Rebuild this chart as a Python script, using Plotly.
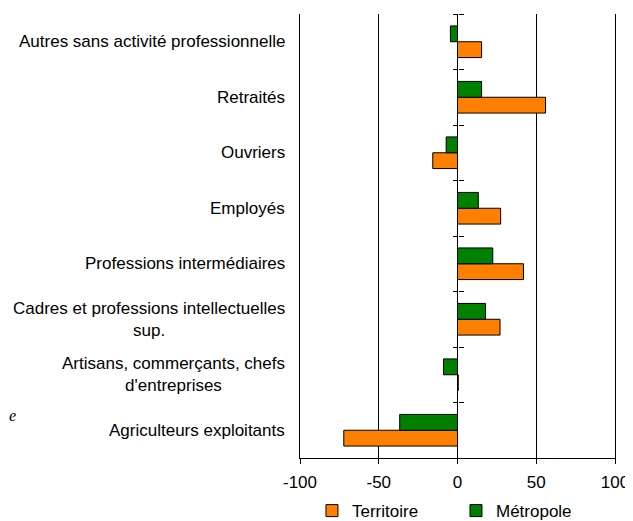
import plotly.graph_objects as go

# categories listed bottom to top
categories = [
    "Agriculteurs exploitants",
    "Artisans, commerçants, chefs<br>d'entreprises",
    "Cadres et professions intellectuelles<br>sup.",
    "Professions intermédiaires",
    "Employés",
    "Ouvriers",
    "Retraités",
    "Autres sans activité professionnelle",
]
territoire = [-72.2, 0.5, 27.0, 41.9, 27.4, -15.7, 55.9, 15.3]
metropole = [-36.7, -8.9, 17.8, 22.4, 13.2, -7.2, 15.3, -4.5]
x_ticks = [-100, -50, 0, 50, 100]

ypos = list(range(len(categories)))
bounds = [i - 0.5 for i in range(len(categories) + 1)]
yrange = [-0.5, len(categories) - 0.5]

FONT = "Liberation Sans, Arial, sans-serif"

fig = go.Figure()
fig.add_trace(go.Bar(
    y=ypos, x=territoire, orientation="h", name="Territoire",
    marker=dict(color="#FF8000", line=dict(color="black", width=1)),
))
fig.add_trace(go.Bar(
    y=ypos, x=metropole, orientation="h", name="Métropole",
    marker=dict(color="#008000", line=dict(color="black", width=1)),
))
# invisible helpers so the boundary-tick axes get drawn
for ax in ["y2", "y3"]:
    fig.add_trace(go.Scatter(
        x=[None], y=[None], yaxis=ax, mode="markers", showlegend=False,
        hoverinfo="skip",
    ))

for i, c in enumerate(categories):
    fig.add_annotation(
        x=0, xref="paper", y=ypos[i], yref="y", text=c, showarrow=False,
        xanchor="right", yanchor="middle", align="center", xshift=-13,
        font=dict(family=FONT, size=17, color="black"),
    )

fig.add_annotation(
    x=0, xref="paper", y=0.095, yref="paper", text="<i>e</i>", showarrow=False,
    xanchor="left", yanchor="middle", xshift=-293,
    font=dict(family="Liberation Serif, serif", size=16, color="black"),
)

fig.update_layout(
    width=625, height=513,
    margin=dict(l=292, r=18, t=6, b=63, autoexpand=False),
    paper_bgcolor="white", plot_bgcolor="white",
    barmode="group", bargap=0.43, bargroupgap=0,
    showlegend=True,
    legend=dict(orientation="h", x=0.038, xanchor="left", y=-0.1195, yanchor="middle",
                font=dict(family=FONT, size=17, color="black"),
                bgcolor="rgba(0,0,0,0)",
                entrywidth=99, entrywidthmode="pixels", itemwidth=30,
                traceorder="normal"),
    xaxis=dict(
        range=[-100, 100], tickvals=x_ticks, ticktext=[str(v) for v in x_ticks],
        showgrid=True, gridcolor="black", gridwidth=1,
        zeroline=True, zerolinecolor="black", zerolinewidth=1,
        showline=True, linecolor="black", linewidth=1,
        ticks="outside", ticklen=5, tickcolor="black",
        ticklabelstandoff=4,
        tickfont=dict(family=FONT, size=17, color="black"),
        mirror=False,
    ),
    yaxis=dict(
        range=yrange, showticklabels=False,
        showgrid=False, zeroline=False, showline=True, linecolor="black",
        linewidth=1, mirror=True, ticks="",
    ),
    yaxis2=dict(
        overlaying="y", anchor="free", position=0.5, side="left",
        range=yrange, tickvals=bounds,
        ticks="outside", ticklen=5, tickcolor="black", showticklabels=False,
        showgrid=False, zeroline=False, showline=False,
    ),
    yaxis3=dict(
        overlaying="y", anchor="free", position=0.5, side="right",
        range=yrange, tickvals=bounds,
        ticks="outside", ticklen=5, tickcolor="black", showticklabels=False,
        showgrid=False, zeroline=False, showline=False,
    ),
)

fig.write_html("out.html")
